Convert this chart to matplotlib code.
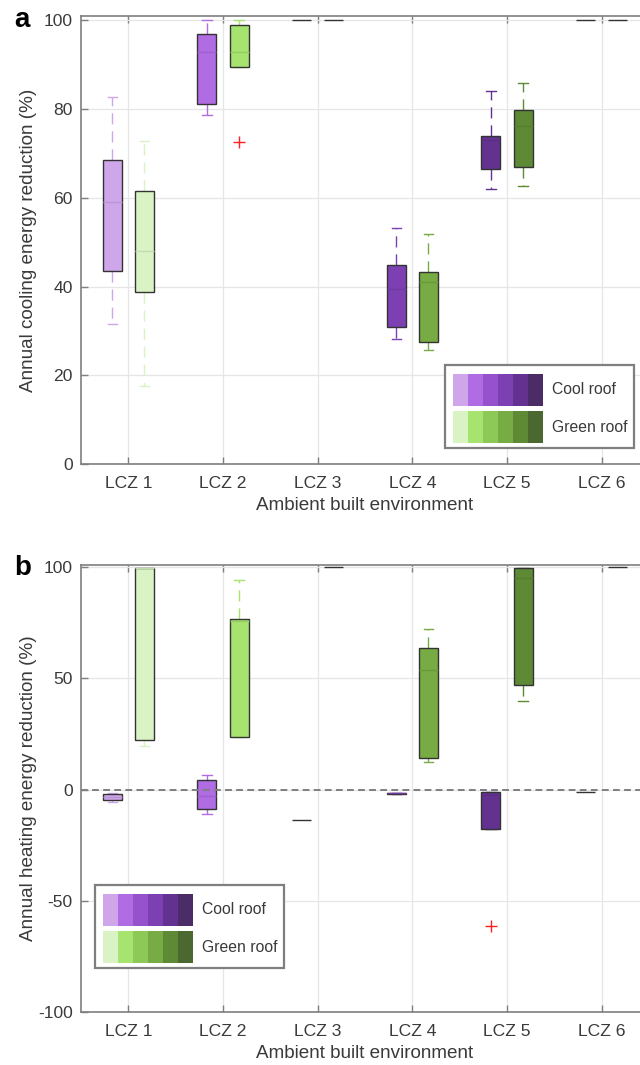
import matplotlib
matplotlib.use('Agg')
import matplotlib.pyplot as plt
from matplotlib.patches import Rectangle
import matplotlib.colors as mcolors

plt.rcParams['font.family'] = ['Liberation Sans', 'DejaVu Sans']

# ---------------- data ----------------
categories = ['LCZ 1', 'LCZ 2', 'LCZ 3', 'LCZ 4', 'LCZ 5', 'LCZ 6']
series_names = ['Cool roof', 'Green roof']
cool_colors = ['#cfa6ea', '#b06ce3', '#9652cc', '#7c40b3', '#633291', '#4b2c66']
green_colors = ['#d9f3c5', '#a7e36f', '#8cc957', '#77ab43', '#5e8a36', '#4a682f']

# Panel a: annual cooling energy reduction (%)
cool_a_whislo = [31.5, 78.7, 100, 28.1, 62.0, 100]
cool_a_q1     = [43.6, 81.2, 100, 30.8, 66.4, 100]
cool_a_med    = [59.1, 92.8, 100, 39.4, 73.0, 100]
cool_a_q3     = [68.5, 96.9, 100, 44.8, 73.9, 100]
cool_a_whishi = [82.8, 100.0, 100, 53.3, 84.1, 100]
cool_a_fliers = [[], [], [], [], [], []]

green_a_whislo = [17.5, 89.5, 100, 25.6, 62.7, 100]
green_a_q1     = [38.7, 89.5, 100, 27.4, 66.9, 100]
green_a_med    = [48.0, 92.9, 100, 41.0, 76.1, 100]
green_a_q3     = [61.6, 99.0, 100, 43.3, 79.7, 100]
green_a_whishi = [72.8, 100.0, 100, 51.8, 85.8, 100]
green_a_fliers = [[], [72.7], [], [], [], []]

# Panel b: annual heating energy reduction (%)
cool_b_whislo = [-5.6, -10.8, -13.8, -2.0, -17.6, -1.0]
cool_b_q1     = [-4.7, -8.9, -13.8, -2.0, -17.6, -1.0]
cool_b_med    = [-3.5, -3.0, -13.8, -1.6, -2.3, -1.0]
cool_b_q3     = [-2.0, 4.2, -13.8, -1.3, -1.0, -1.0]
cool_b_whishi = [-1.5, 6.5, -13.8, -1.3, -1.0, -1.0]
cool_b_fliers = [[], [], [], [], [-61.5], []]

green_b_whislo = [19.7, 23.5, 100, 12.5, 39.7, 100]
green_b_q1     = [22.4, 23.5, 100, 14.0, 46.9, 100]
green_b_med    = [99.5, 76.0, 100, 53.8, 95.0, 100]
green_b_q3     = [99.5, 76.7, 100, 63.6, 99.8, 100]
green_b_whishi = [99.5, 94.3, 100, 72.0, 99.8, 100]
green_b_fliers = [[], [], [], [], [], []]

# ---------------- layout ----------------
W, H = 640, 1065
fig = plt.figure(figsize=(W / 100, H / 100), dpi=100)


def rect(l, t, r, b):
    return [l / W, 1 - b / H, (r - l) / W, (b - t) / H]


TEXT = '#3a3a3a'
EDGE = '#333333'
SPINE = '#7f7f7f'


def darker(c, f=0.9):
    r, g, b = mcolors.to_rgb(c)
    return (r * f, g * f, b * f)


def draw_series(ax, whislo, q1, med, q3, whishi, fliers, colors, offset):
    stats = []
    for i in range(len(categories)):
        stats.append(dict(whislo=whislo[i], q1=q1[i], med=med[i], q3=q3[i],
                          whishi=whishi[i], fliers=fliers[i]))
    pos = [i + 1 + offset for i in range(len(categories))]
    res = ax.bxp(stats, positions=pos, widths=0.2, capwidths=0.1,
                 patch_artist=True, showfliers=True, manage_ticks=False,
                 boxprops=dict(edgecolor=EDGE, linewidth=1.0),
                 whiskerprops=dict(linewidth=1.0, linestyle=(0, (8, 5))),
                 capprops=dict(linewidth=1.0),
                 medianprops=dict(linewidth=1.0),
                 flierprops=dict(marker='+', markeredgecolor='#ff2020',
                                 markersize=9, markeredgewidth=1.0,
                                 linestyle='none'))
    for i, c in enumerate(colors):
        res['boxes'][i].set_facecolor(c)
        res['boxes'][i].set_zorder(2)
        res['medians'][i].set_color(darker(c))
        res['medians'][i].set_zorder(2.5)
        if q1[i] == q3[i]:
            res['medians'][i].set_visible(False)
        for w in res['whiskers'][2 * i:2 * i + 2]:
            w.set_color(c)
            w.set_zorder(1.8)
        for cp in res['caps'][2 * i:2 * i + 2]:
            cp.set_color(c)
            cp.set_zorder(1.8)
            if q1[i] == q3[i]:
                cp.set_visible(False)


def style_axes(ax, ylim, yticks, ylabel):
    ax.set_xlim(0.5, 6.5)
    ax.set_ylim(*ylim)
    ax.set_xticks(range(1, 7))
    ax.set_xticklabels(categories)
    ax.set_yticks(yticks)
    ax.set_yticklabels([str(v) for v in yticks])
    ax.grid(True, color='#e6e6e6', linewidth=0.9, zorder=0)
    ax.set_axisbelow(True)
    for s in ax.spines.values():
        s.set_color(SPINE)
        s.set_linewidth(1.2)
    ax.tick_params(direction='in', length=5, width=1.0, color=SPINE,
                   top=True, right=True, labelsize=12.6, labelcolor=TEXT)
    ax.tick_params(axis='x', pad=9)
    ax.tick_params(axis='y', pad=6)
    ax.set_xlabel('Ambient built environment', fontsize=13.6, color=TEXT,
                  labelpad=4)
    ax.set_ylabel(ylabel, fontsize=13.6, color=TEXT)
    ax.yaxis.set_label_coords((37 - 81) / 568, 0.5)


def add_legend(left, top):
    # custom gradient legend in pixel coordinates
    tf = fig.transFigure
    bw, bh = 189, 83
    fig.add_artist(Rectangle((left / W, 1 - (top + bh) / H), bw / W, bh / H,
                             transform=tf, facecolor='white',
                             edgecolor='#7f7f7f', linewidth=1.6, zorder=10))
    sw = 15
    rows = [(cool_colors, series_names[0], top + 9),
            (green_colors, series_names[1], top + 46)]
    for cols, name, rt in rows:
        for k, c in enumerate(cols):
            x0 = left + 8 + k * sw
            fig.add_artist(Rectangle((x0 / W, 1 - (rt + 32) / H), sw / W,
                                     32 / H, transform=tf, facecolor=c,
                                     edgecolor='none', zorder=11))
        fig.text((left + 107) / W, 1 - (rt + 16) / H, name, fontsize=11.3,
                 color=TEXT, va='center', ha='left', zorder=12)


# Panel a
ax_a = fig.add_axes(rect(81, 16, 649, 464))
draw_series(ax_a, cool_a_whislo, cool_a_q1, cool_a_med, cool_a_q3,
            cool_a_whishi, cool_a_fliers, cool_colors, -0.17)
draw_series(ax_a, green_a_whislo, green_a_q1, green_a_med, green_a_q3,
            green_a_whishi, green_a_fliers, green_colors, 0.17)
style_axes(ax_a, (0, 101), [0, 20, 40, 60, 80, 100],
           'Annual cooling energy reduction (%)')
add_legend(445, 365)

# Panel b
ax_b = fig.add_axes(rect(81, 565, 649, 1012))
draw_series(ax_b, cool_b_whislo, cool_b_q1, cool_b_med, cool_b_q3,
            cool_b_whishi, cool_b_fliers, cool_colors, -0.17)
draw_series(ax_b, green_b_whislo, green_b_q1, green_b_med, green_b_q3,
            green_b_whishi, green_b_fliers, green_colors, 0.17)
ax_b.axhline(0, color='#7f7f7f', linewidth=1.4, linestyle=(0, (3.5, 2.2)),
             zorder=4)
style_axes(ax_b, (-100, 101), [-100, -50, 0, 50, 100],
           'Annual heating energy reduction (%)')
add_legend(95, 885)

fig.text(14 / W, 1 - 20 / H, 'a', fontsize=20, fontweight='bold',
         va='center', ha='left', color='black')
fig.text(14 / W, 1 - 568 / H, 'b', fontsize=20, fontweight='bold',
         va='center', ha='left', color='black')

fig.savefig('out.png', dpi=100)
